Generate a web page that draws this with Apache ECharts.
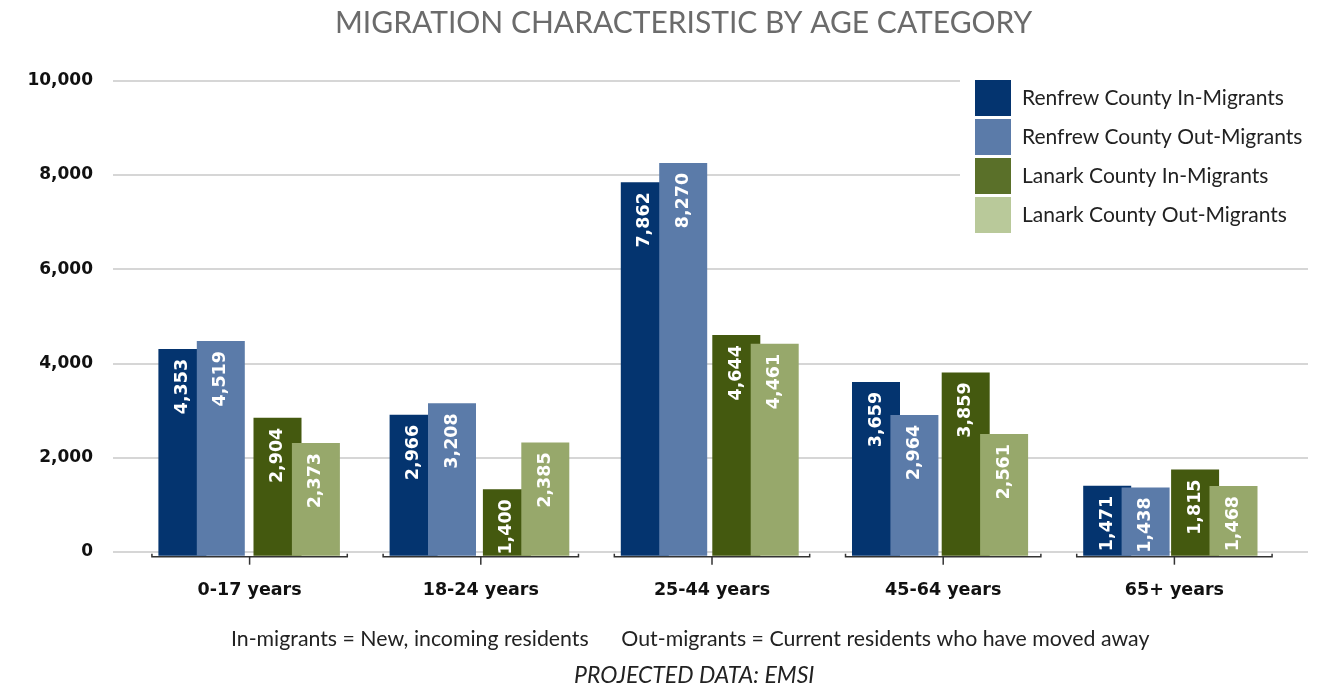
<!DOCTYPE html>
<html>
<head>
<meta charset="utf-8">
<script src="https://cdn.jsdelivr.net/npm/echarts@6/dist/echarts.min.js"></script>
<style>
  html, body { margin: 0; padding: 0; background: #fff; }
  #chart { width: 1329px; height: 684px; }
</style>
</head>
<body>
<div id="chart"></div>
<script>
// values
const categories = ['0-17 years', '18-24 years', '25-44 years', '45-64 years', '65+ years']
const renfrewIn = [4353, 2966, 7862, 3659, 1471]
const renfrewOut = [4519, 3208, 8270, 2964, 1438]
const lanarkIn = [2904, 1400, 4644, 3859, 1815]
const lanarkOut = [2373, 2385, 4461, 2561, 1468]
const yMax = 10000
const yStep = 2000

const seriesNames = [
  'Renfrew County In-Migrants',
  'Renfrew County Out-Migrants',
  'Lanark County In-Migrants',
  'Lanark County Out-Migrants'
]
const barColors = ['#04346F', '#5B7BA9', '#44590F', '#97A86B']
const legendColors = ['#04346F', '#5B7BA9', '#5A7029', '#B9C99A']

const FONT = 'Lato, "Noto Sans", sans-serif'
const BOLD = '"DejaVu Sans", sans-serif'
const fmt = v => v.toLocaleString('en-US')

const barLabel = {
  show: true,
  position: 'insideTop',
  distance: 10,
  rotate: 90,
  align: 'right',
  verticalAlign: 'middle',
  color: '#fff',
  fontFamily: BOLD,
  fontWeight: 'bold',
  fontSize: 17.5,
  formatter: p => fmt(p.value)
}

const makeBar = (i, data, axis) => ({
  name: seriesNames[i],
  type: 'bar',
  xAxisIndex: axis,
  yAxisIndex: axis,
  data: data,
  barWidth: 48,
  barGap: '-20%',
  itemStyle: { color: barColors[i] },
  label: barLabel,
  animation: false
})

// grid 0: gridlines + y labels, grid 1: Renfrew pair, grid 2: Lanark pair, grid 3: x labels + brackets
const plotTop = 80.7
const grids = [
  { left: 113, right: 21, top: plotTop, height: 471 },
  { left: 86, width: 1156, top: plotTop, height: 475 },
  { left: 182, width: 1156, top: plotTop, height: 475 },
  { left: 134, width: 1156, top: plotTop, height: 475 }
]

const hiddenCat = i => ({
  type: 'category', gridIndex: i, data: categories,
  axisLine: { show: false }, axisTick: { show: false }, axisLabel: { show: false }
})
const hiddenVal = i => ({
  type: 'value', gridIndex: i, min: 0, max: yMax, interval: yStep,
  axisLine: { show: false }, axisTick: { show: false }, axisLabel: { show: false },
  splitLine: { show: false }
})

const option = {
  backgroundColor: '#fff',
  title: [{
    text: 'MIGRATION CHARACTERISTIC BY AGE CATEGORY',
    left: 330, top: 3,
    textStyle: { color: '#6b6b6b', fontFamily: FONT, fontWeight: 'normal', fontSize: 30 }
  }, {
    text: 'In-migrants = New, incoming residents      Out-migrants = Current residents who have moved away',
    left: 226, top: 624,
    textStyle: { color: '#222', fontFamily: FONT, fontWeight: 'normal', fontSize: 21.3 }
  }, {
    text: 'PROJECTED DATA: EMSI',
    left: 569, top: 659,
    textStyle: { color: '#222', fontFamily: FONT, fontWeight: 'normal', fontStyle: 'italic', fontSize: 23 }
  }],
  legend: {
    orient: 'vertical',
    left: 960, top: 76,
    padding: [4, 10, 6, 15],
    backgroundColor: '#fff',
    itemWidth: 36, itemHeight: 36, itemGap: 3,
    icon: 'rect',
    z: 10,
    textStyle: { color: '#222', fontFamily: FONT, fontSize: 21, padding: [0, 0, 4, 6] },
    data: seriesNames.map((n, i) => ({ name: n, itemStyle: { color: legendColors[i] } }))
  },
  grid: grids,
  xAxis: [hiddenCat(0), hiddenCat(1), hiddenCat(2), {
    type: 'category', gridIndex: 3, data: categories,
    axisLine: { show: false }, axisTick: { show: false },
    axisLabel: { margin: 26, color: '#111', fontFamily: BOLD, fontWeight: 'bold', fontSize: 17.5 }
  }],
  yAxis: [{
    type: 'value', gridIndex: 0, min: 0, max: yMax, interval: yStep,
    axisLine: { show: false }, axisTick: { show: false },
    axisLabel: { margin: 20, color: '#111', fontFamily: BOLD, fontWeight: 'bold', fontSize: 17, formatter: fmt },
    splitLine: { lineStyle: { color: '#c8c8c8', width: 1.5 } }
  }, hiddenVal(1), hiddenVal(2), hiddenVal(3)],
  series: [
    makeBar(0, renfrewIn, 1),
    makeBar(1, renfrewOut, 1),
    makeBar(2, lanarkIn, 2),
    makeBar(3, lanarkOut, 2),
    {
      // bracket under each age group
      type: 'custom',
      xAxisIndex: 3, yAxisIndex: 3,
      silent: true,
      animation: false,
      data: categories.map((c, i) => [i]),
      encode: { x: 0 },
      renderItem: (params, api) => {
        const pt = api.coord([api.value(0), 0])
        const band = api.size([1, 0])[0]
        const half = band * 0.845 / 2
        const cx = pt[0]
        const y = pt[1] + 1
        const style = { stroke: '#333', lineWidth: 1.5, fill: null }
        return {
          type: 'group',
          children: [{
            type: 'polyline',
            shape: { points: [[cx - half, y - 3], [cx - half, y], [cx + half, y], [cx + half, y - 3]] },
            style: style
          }, {
            type: 'line',
            shape: { x1: cx, y1: y, x2: cx, y2: y + 8 },
            style: style
          }]
        }
      }
    }
  ]
}

const myChart = echarts.init(document.getElementById('chart'))
myChart.setOption(option)
</script>
</body>
</html>
